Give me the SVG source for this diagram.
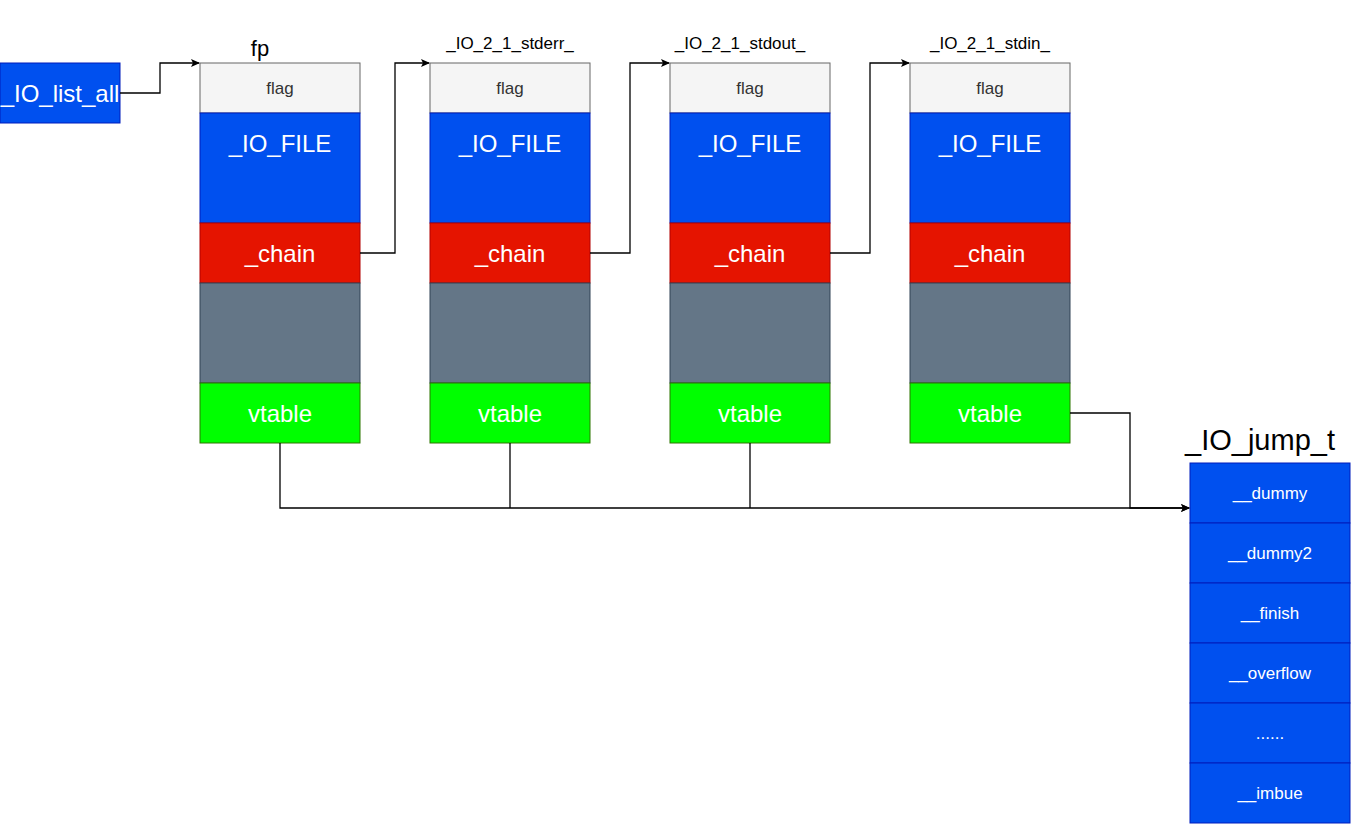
<svg xmlns="http://www.w3.org/2000/svg" width="1351" height="824" viewBox="0 0 1351 824">
<defs>
<marker id="arr" markerWidth="10" markerHeight="10" refX="8" refY="5" orient="auto" markerUnits="userSpaceOnUse">
<path d="M0,1 L9,5 L0,9 L2,5 Z" fill="#000"/>
</marker>
<style>
text{font-family:"Liberation Sans",Arial,sans-serif;text-anchor:middle;dominant-baseline:central}
.flag{fill:#f5f5f5;stroke:#666666}
.file{fill:#0050ef;stroke:#001DBC}
.chain{fill:#e51400;stroke:#B20000}
.grey{fill:#647687;stroke:#314354}
.vt{fill:#00ff00;stroke:#2D7600}
.jt{fill:#0050ef;stroke:#001DBC}
.tf{fill:#333333;font-size:17px}
.tw{fill:#ffffff;font-size:24px}
.ts{fill:#ffffff;font-size:17px}
.lab{fill:#000;font-size:17px}
.con{fill:none;stroke:#000;stroke-width:1.3}
</style>
</defs>
<g id="io_list_all">
<rect x="0" y="63" width="120" height="60" class="file"/>
<text x="60" y="93" class="tw">_IO_list_all</text>
</g>
<g id="fp">
<text x="260" y="48" style="font-size:22px">fp</text>
<rect x="200" y="63" width="160" height="50" class="flag"/><text x="280" y="88" class="tf">flag</text>
<rect x="200" y="113" width="160" height="110" class="file"/><text x="280" y="143" class="tw">_IO_FILE</text>
<rect x="200" y="223" width="160" height="60" class="chain"/><text x="280" y="253" class="tw">_chain</text>
<rect x="200" y="283" width="160" height="100" class="grey"/>
<rect x="200" y="383" width="160" height="60" class="vt"/><text x="280" y="413" class="tw">vtable</text>
</g>
<g id="stderr">
<text x="510" y="43" class="lab">_IO_2_1_stderr_</text>
<rect x="430" y="63" width="160" height="50" class="flag"/><text x="510" y="88" class="tf">flag</text>
<rect x="430" y="113" width="160" height="110" class="file"/><text x="510" y="143" class="tw">_IO_FILE</text>
<rect x="430" y="223" width="160" height="60" class="chain"/><text x="510" y="253" class="tw">_chain</text>
<rect x="430" y="283" width="160" height="100" class="grey"/>
<rect x="430" y="383" width="160" height="60" class="vt"/><text x="510" y="413" class="tw">vtable</text>
</g>
<g id="stdout">
<text x="740" y="43" class="lab">_IO_2_1_stdout_</text>
<rect x="670" y="63" width="160" height="50" class="flag"/><text x="750" y="88" class="tf">flag</text>
<rect x="670" y="113" width="160" height="110" class="file"/><text x="750" y="143" class="tw">_IO_FILE</text>
<rect x="670" y="223" width="160" height="60" class="chain"/><text x="750" y="253" class="tw">_chain</text>
<rect x="670" y="283" width="160" height="100" class="grey"/>
<rect x="670" y="383" width="160" height="60" class="vt"/><text x="750" y="413" class="tw">vtable</text>
</g>
<g id="stdin">
<text x="990" y="43" class="lab">_IO_2_1_stdin_</text>
<rect x="910" y="63" width="160" height="50" class="flag"/><text x="990" y="88" class="tf">flag</text>
<rect x="910" y="113" width="160" height="110" class="file"/><text x="990" y="143" class="tw">_IO_FILE</text>
<rect x="910" y="223" width="160" height="60" class="chain"/><text x="990" y="253" class="tw">_chain</text>
<rect x="910" y="283" width="160" height="100" class="grey"/>
<rect x="910" y="383" width="160" height="60" class="vt"/><text x="990" y="413" class="tw">vtable</text>
</g>
<g id="io_jump_t">
<text x="1260" y="440" style="font-size:29px">_IO_jump_t</text>
<rect x="1190" y="463" width="160" height="60" class="jt"/><text x="1270" y="493" class="ts">__dummy</text>
<rect x="1190" y="523" width="160" height="60" class="jt"/><text x="1270" y="553" class="ts">__dummy2</text>
<rect x="1190" y="583" width="160" height="60" class="jt"/><text x="1270" y="613" class="ts">__finish</text>
<rect x="1190" y="643" width="160" height="60" class="jt"/><text x="1270" y="673" class="ts">__overflow</text>
<rect x="1190" y="703" width="160" height="60" class="jt"/><text x="1270" y="733" class="ts">......</text>
<rect x="1190" y="763" width="160" height="60" class="jt"/><text x="1270" y="793" class="ts">__imbue</text>
</g>
<g id="connectors">
<path class="con" d="M120,93 H160 V63 H199" marker-end="url(#arr)"/>
<path class="con" d="M360,253 H395 V63 H429" marker-end="url(#arr)"/>
<path class="con" d="M590,253 H630 V63 H669" marker-end="url(#arr)"/>
<path class="con" d="M830,253 H870 V63 H909" marker-end="url(#arr)"/>
<path class="con" d="M280,443 V508 H1189" marker-end="url(#arr)"/>
<path class="con" d="M510,443 V508"/>
<path class="con" d="M750,443 V508"/>
<path class="con" d="M1070,413 H1130 V508 H1189" marker-end="url(#arr)"/>
</g>
</svg>
